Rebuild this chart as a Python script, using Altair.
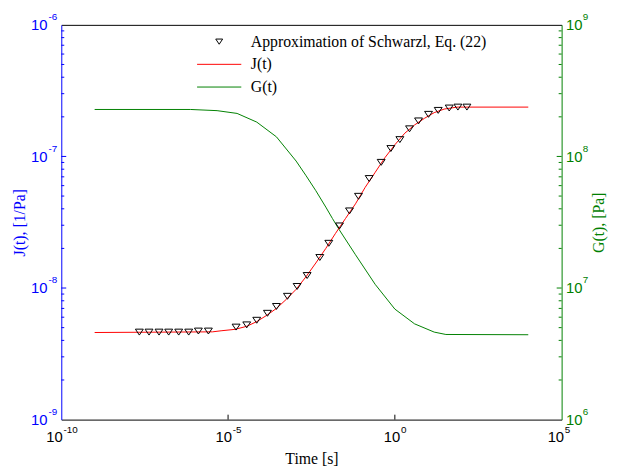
import altair as alt
import pandas as pd

W, H = 507, 400
SERIF = "Liberation Serif"
SANS = "Liberation Sans"
BLUE = "#0000ff"
GREEN = "#008000"

# ---------------- values (log10 of the quantities) ----------------
# Schwarzl approximation markers: log10(t [s]) and log10(J [1/Pa])
marker_log_t = [-7.66, -7.37, -7.07, -6.78, -6.48, -6.18, -5.89, -5.59,
                -4.76, -4.44, -4.14, -3.82, -3.55, -3.22, -2.93, -2.63,
                -2.25, -1.98, -1.66, -1.36, -1.09, -0.77, -0.41, -0.12,
                0.15, 0.44, 0.71, 1.01, 1.30, 1.63, 1.89, 2.16]
marker_log_J = [-8.335, -8.335, -8.335, -8.335, -8.335, -8.335, -8.327, -8.327,
                -8.297, -8.280, -8.245, -8.192, -8.140, -8.063, -7.988, -7.905,
                -7.768, -7.660, -7.528, -7.414, -7.303, -7.168, -7.045, -6.940,
                -6.872, -6.790, -6.730, -6.680, -6.650, -6.632, -6.625, -6.625]

# J(t) curve
j_log_t = [-9.0, -5.47, -5.21, -4.79, -4.44, -4.14, -3.85, -3.55, -3.25, -2.96,
           -2.66, -2.37, -2.07, -1.78, -1.48, -1.18, -0.89, -0.59, -0.30, 0.0,
           0.30, 0.59, 0.89, 1.18, 1.48, 1.86, 4.0]
j_log_J = [-8.338, -8.333, -8.325, -8.314, -8.291, -8.255, -8.209, -8.155, -8.085, -8.010,
           -7.913, -7.810, -7.699, -7.585, -7.472, -7.360, -7.235, -7.121, -7.010, -6.911,
           -6.823, -6.761, -6.710, -6.667, -6.640, -6.625, -6.625]

# G(t) curve
g_log_t = [-9.0, -6.12, -5.33, -4.73, -4.14, -3.55, -2.96, -2.66, -2.37, -2.07,
           -1.87, -1.68, -1.18, -0.59, 0.0, 0.59, 1.18, 1.53, 4.0]
g_log_G = [8.357, 8.357, 8.348, 8.327, 8.261, 8.149, 7.965, 7.853, 7.740, 7.615,
           7.528, 7.448, 7.253, 7.028, 6.840, 6.728, 6.665, 6.647, 6.645]

series_names = ["Approximation of Schwarzl, Eq. (22)", "J(t)", "G(t)"]
series_colors = ["#000000", "#ff0000", GREEN]
TRI = "M-1,-0.75L1,-0.75L0,0.75Z"
LEG_LINE = "M-6.4,0H6.4"
series_shapes = [TRI, LEG_LINE, LEG_LINE]

# axis ticks and labels ("10" with a raised exponent)
tick_base = "10"
x_tick_values = [1e-10, 1e-5, 1e0, 1e5]
x_tick_exps = ["-10", "-5", "0", "5"]
j_tick_values = [1e-9, 1e-8, 1e-7, 1e-6]
j_tick_exps = ["-9", "-8", "-7", "-6"]
g_tick_values = [1e6, 1e7, 1e8, 1e9]
g_tick_exps = ["6", "7", "8", "9"]
x_inner_ticks = [1e-5, 1e0]
j_major_ticks = [1e-8, 1e-7]
j_minor_ticks = [2e-9, 3e-9, 4e-9, 5e-9, 6e-9, 7e-9, 8e-9, 9e-9,
                 2e-8, 3e-8, 4e-8, 5e-8, 6e-8, 7e-8, 8e-8, 9e-8,
                 2e-7, 3e-7, 4e-7, 5e-7, 6e-7, 7e-7, 8e-7, 9e-7]
g_major_ticks = [1e7, 1e8]
g_minor_ticks = [2e6, 3e6, 4e6, 5e6, 6e6, 7e6, 8e6, 9e6,
                 2e7, 3e7, 4e7, 5e7, 6e7, 7e7, 8e7, 9e7,
                 2e8, 3e8, 4e8, 5e8, 6e8, 7e8, 8e8, 9e8]


def label_expr(values, labels):
    expr = "''"
    for v, lab in zip(values[::-1], labels[::-1]):
        expr = f"abs(datum.value / {v!r} - 1) < 0.001 ? '{lab}' : ({expr})"
    return expr


def x_offset(extra):
    # horizontal shift so that "10"+exponent sits centred on each tick
    return {"condition": [{"test": "datum.value < 1e-7", "value": 1 + extra},
                          {"test": "datum.value < 1e-2", "value": 3.5 + extra},
                          {"test": "datum.value < 1e2", "value": 5 + extra}],
            "value": 2 + extra}


df_m = pd.DataFrame({"t": [10 ** e for e in marker_log_t],
                     "v": [10 ** e for e in marker_log_J],
                     "series": series_names[0]})
df_j = pd.DataFrame({"t": [10 ** e for e in j_log_t],
                     "v": [10 ** e for e in j_log_J],
                     "series": series_names[1]})
df_g = pd.DataFrame({"t": [10 ** e for e in g_log_t],
                     "v": [10 ** e for e in g_log_G],
                     "series": series_names[2]})

xs = alt.Scale(type="log", domain=[1e-10, 1e5], nice=False)
js = alt.Scale(type="log", domain=[1e-9, 1e-6], nice=False)
gs = alt.Scale(type="log", domain=[1e6, 1e9], nice=False)
color_scale = alt.Scale(domain=series_names, range=series_colors)
shape_scale = alt.Scale(domain=series_names, range=series_shapes)

legend = alt.Legend(title=None, orient="none", legendX=152, legendY=9,
                    direction="vertical", labelFont=SERIF, labelFontSize=16,
                    labelColor="black", labelLimit=0, symbolSize=49,
                    symbolStrokeWidth=1, labelOffset=24, rowPadding=7, padding=0)

common = dict(ticks=False, tickSize=0, grid=False, labelFlush=False,
              labelOverlap=False, labelFont=SANS)

# bottom axis: "10" part, domain and title
x_axis = alt.Axis(orient="bottom", values=x_tick_values,
                  labelExpr=f"'{tick_base}'", domainColor="black",
                  labelColor="black", labelFontSize=15,
                  labelBaseline="middle", labelAlign="right", labelPadding=17,
                  labelOffset=x_offset(0),
                  title="Time [s]", titleFont=SERIF, titleFontSize=16,
                  titleFontWeight="normal", titleColor="black",
                  titleX=W / 2, titleY=44, titleBaseline="alphabetic",
                  titleAlign="center", **common)
# bottom axis: exponents
x_axis_exp = alt.Axis(orient="bottom", values=x_tick_values,
                      labelExpr=label_expr(x_tick_values, x_tick_exps),
                      domain=False, labelColor="black", labelFontSize=10,
                      labelBaseline="middle", labelAlign="left", labelPadding=10,
                      labelOffset=x_offset(0.7), title=None, **common)

j_axis = alt.Axis(orient="left", values=j_tick_values,
                  labelExpr=f"'{tick_base}'", domainColor=BLUE,
                  labelColor=BLUE, labelFontSize=15,
                  labelBaseline="middle", labelAlign="right", labelPadding=14.5,
                  title="J(t), [1/Pa]", titleFont=SERIF, titleFontSize=16,
                  titleFontWeight="normal", titleColor=BLUE,
                  titleAngle=270, titleX=-42, titleY=H / 2,
                  titleBaseline="middle", titleAlign="center", **common)
j_axis_exp = alt.Axis(orient="left", values=j_tick_values,
                      labelExpr=label_expr(j_tick_values, j_tick_exps),
                      domain=False, labelColor=BLUE, labelFontSize=10,
                      labelBaseline="middle", labelAlign="right", labelPadding=4.5,
                      labelOffset=-8.5, title=None, **common)

g_axis = alt.Axis(orient="right", values=g_tick_values,
                  labelExpr=f"'{tick_base}'", domainColor=GREEN,
                  labelColor=GREEN, labelFontSize=15,
                  labelBaseline="middle", labelAlign="left", labelPadding=4,
                  title="G(t), [Pa]", titleFont=SERIF, titleFontSize=16,
                  titleFontWeight="normal", titleColor=GREEN,
                  titleAngle=270, titleX=37, titleY=H / 2,
                  titleBaseline="middle", titleAlign="center", **common)
g_axis_exp = alt.Axis(orient="right", values=g_tick_values,
                      labelExpr=label_expr(g_tick_values, g_tick_exps),
                      domain=False, labelColor=GREEN, labelFontSize=10,
                      labelBaseline="middle", labelAlign="left", labelPadding=21,
                      labelOffset=-8.5, title=None, **common)

top_axis = alt.Axis(orient="top", labels=False, ticks=False, tickSize=0,
                    grid=False, domainColor="black", title=None)

g_line = alt.Chart(df_g).mark_line(strokeWidth=1).encode(
    x=alt.X("t:Q", scale=xs, axis=None),
    y=alt.Y("v:Q", scale=gs, axis=g_axis),
    color=alt.Color("series:N", scale=color_scale, legend=legend),
)

j_line = alt.Chart(df_j).mark_line(strokeWidth=1).encode(
    x=alt.X("t:Q", scale=xs, axis=x_axis),
    y=alt.Y("v:Q", scale=js, axis=j_axis),
    color=alt.Color("series:N", scale=color_scale, legend=legend),
)

markers = alt.Chart(df_m).mark_point(filled=False, size=64, strokeWidth=1,
                                     opacity=1).encode(
    x=alt.X("t:Q", scale=xs, axis=x_axis_exp),
    y=alt.Y("v:Q", scale=js, axis=None),
    color=alt.Color("series:N", scale=color_scale, legend=legend),
    shape=alt.Shape("series:N", scale=shape_scale, legend=legend),
)

j_maj = alt.Chart(pd.DataFrame({"v": j_major_ticks})).mark_rule(
    color=BLUE, strokeWidth=1).encode(
    y=alt.Y("v:Q", scale=js, axis=j_axis_exp), x=alt.value(0), x2=alt.value(5))
j_min = alt.Chart(pd.DataFrame({"v": j_minor_ticks})).mark_rule(
    color=BLUE, strokeWidth=1).encode(
    y=alt.Y("v:Q", scale=js, axis=None), x=alt.value(0), x2=alt.value(3))
g_maj = alt.Chart(pd.DataFrame({"v": g_major_ticks})).mark_rule(
    color=GREEN, strokeWidth=1).encode(
    y=alt.Y("v:Q", scale=gs, axis=g_axis_exp), x=alt.value(W), x2=alt.value(W - 5))
g_min = alt.Chart(pd.DataFrame({"v": g_minor_ticks})).mark_rule(
    color=GREEN, strokeWidth=1).encode(
    y=alt.Y("v:Q", scale=gs, axis=None), x=alt.value(W), x2=alt.value(W - 3))
x_ticks = alt.Chart(pd.DataFrame({"v": x_inner_ticks})).mark_rule(
    color="black", strokeWidth=1).encode(
    x=alt.X("v:Q", scale=xs, axis=top_axis), y=alt.value(H), y2=alt.value(H - 5))

chart = alt.layer(
    g_line, j_line, markers, j_maj, j_min, g_maj, g_min, x_ticks
).resolve_scale(
    y="independent"
).resolve_axis(
    x="independent", y="independent"
).properties(
    width=W, height=H,
    autosize=alt.AutoSizeParams(type="none"),
    padding={"left": 54, "top": 14, "right": 48, "bottom": 50},
    background="white",
).configure_view(stroke=None)

chart.save("out.html", embed_options={"renderer": "svg", "actions": False})
